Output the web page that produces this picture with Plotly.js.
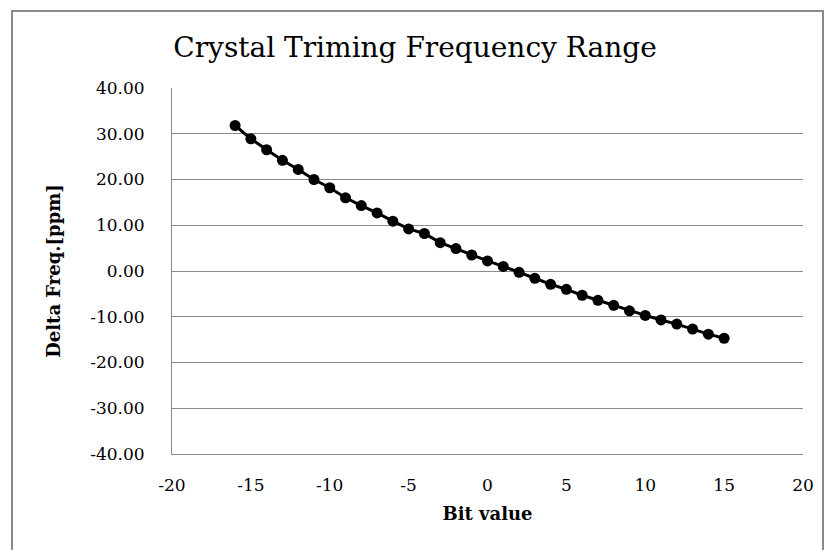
<!DOCTYPE html>
<html>
<head>
<meta charset="utf-8">
<script src="https://cdn.plot.ly/plotly-3.0.1.min.js"></script>
<style>
  html, body { margin: 0; padding: 0; background: #ffffff; }
  #wrap { position: relative; width: 830px; height: 550px; overflow: hidden; }
  #chart { width: 830px; height: 550px; }
  #frame { position: absolute; left: 11px; top: 10px; width: 813px; height: 600px;
           border: 2px solid #8a8a8a; pointer-events: none; box-sizing: border-box; }
</style>
</head>
<body>
<div id="wrap">
  <div id="chart"></div>
  <div id="frame"></div>
</div>
<script>
const bitValues = [-16,-15,-14,-13,-12,-11,-10,-9,-8,-7,-6,-5,-4,-3,-2,-1,
                   0,1,2,3,4,5,6,7,8,9,10,11,12,13,14,15];
const deltaFreq = [31.8,28.9,26.5,24.2,22.2,20.0,18.2,16.0,14.3,12.7,10.9,9.2,8.2,6.2,4.9,3.5,
                   2.2,1.0,-0.3,-1.6,-2.9,-4.0,-5.3,-6.4,-7.5,-8.7,-9.7,-10.7,-11.6,-12.7,-13.8,-14.7];
const yTickVals = [-40,-30,-20,-10,0,10,20,30,40];
const yTickText = ["-40.00","-30.00","-20.00","-10.00","0.00","10.00","20.00","30.00","40.00"];
const xTickVals = [-20,-15,-10,-5,0,5,10,15,20];
const xTickText = ["-20","-15","-10","-5","0","5","10","15","20"];

const serif = "DejaVu Serif, Liberation Serif, serif";

const trace = {
  x: bitValues, y: deltaFreq, type: 'scatter', mode: 'lines+markers',
  line: { color: '#000000', width: 3 },
  marker: { color: '#000000', size: 11, symbol: 'circle' },
  showlegend: false, hoverinfo: 'x+y'
};

const layout = {
  width: 830, height: 550,
  margin: { l: 172, r: 27, t: 87.5, b: 95.5 },
  paper_bgcolor: '#ffffff', plot_bgcolor: '#ffffff',
  font: { family: serif, color: '#000000' },
  title: { text: 'Crystal Triming Frequency Range', x: 0.5, xanchor: 'center',
           y: 0.915, yanchor: 'middle', font: { family: serif, size: 28, color: '#000000' } },
  xaxis: {
    range: [-20, 20], tickmode: 'array', tickvals: xTickVals, ticktext: xTickText,
    showgrid: false, zeroline: false, showline: true, linecolor: '#8a8a8a', linewidth: 1,
    ticks: '', ticklabelstandoff: 16, tickfont: { family: serif, size: 17, color: '#000000' },
    title: { text: '<b>Bit value</b>', font: { family: serif, size: 18, color: '#000000' }, standoff: 12 }
  },
  yaxis: {
    range: [-40, 40], tickmode: 'array', tickvals: yTickVals, ticktext: yTickText,
    showgrid: true, gridcolor: '#8a8a8a', gridwidth: 1,
    zeroline: false, showline: true, linecolor: '#8a8a8a', linewidth: 1,
    ticks: '', ticklabelstandoff: 23, tickfont: { family: serif, size: 17, color: '#000000' },
    title: { text: '<b>Delta Freq.[ppm]</b>', font: { family: serif, size: 18, color: '#000000' }, standoff: 24 }
  }
};

Plotly.newPlot('chart', [trace], layout, { displayModeBar: false, staticPlot: true });
</script>
</body>
</html>
